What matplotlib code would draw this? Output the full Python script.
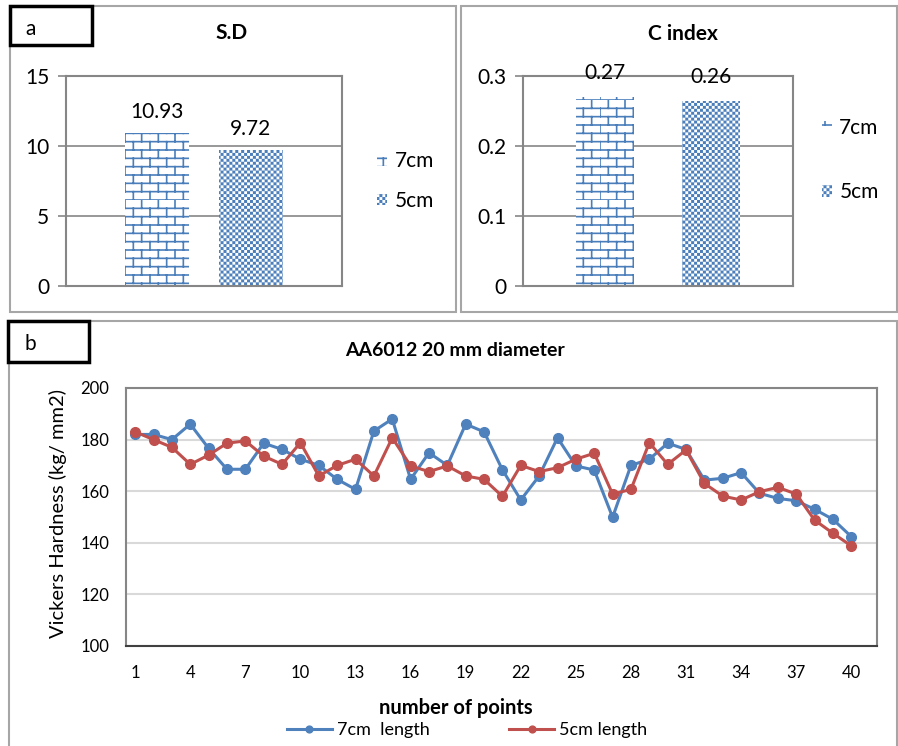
import warnings
import numpy as np
import matplotlib
matplotlib.use("Agg")
import matplotlib.pyplot as plt
import matplotlib.hatch as mhatch
from matplotlib.path import Path
from matplotlib.patches import Rectangle

warnings.filterwarnings("ignore")

# ---- data ----
bar_labels = ["7cm", "5cm"]
sd_values = [10.93, 9.72]
cindex_values = [0.27, 0.264]

points = list(range(1, 41))
hv_7cm = [182, 182, 180, 186, 176.6, 168.5, 168.5, 178.6, 176.2, 172.4,
          170, 164.6, 160.7, 183.3, 188, 164.6, 174.9, 170, 186, 183,
          168.3, 156.6, 165.9, 180.7, 169.8, 168.2, 149.9, 170, 172.4, 178.6,
          176.2, 164.3, 165, 167.2, 159.2, 157.2, 156.3, 153, 149.1, 142.4]
hv_5cm = [183, 180, 177, 170.4, 174, 178.6, 179.5, 173.6, 170.4, 178.8,
          165.9, 170, 172.4, 165.9, 180.7, 169.8, 167.6, 169.8, 165.9, 164.6,
          158, 170, 167.6, 169.1, 172.4, 174.7, 158.9, 160.7, 178.8, 170.4,
          176, 163, 158.1, 156.6, 159.8, 161.5, 158.9, 148.8, 143.7, 138.8]
x_ticks = list(range(1, 41, 3))


# Excel-like hatch patterns: 'B' = bricks, 'C' = small checkerboard
class BrickHatch(mhatch.HatchPatternBase):
    def __init__(self, hatch, density):
        n = hatch.count('B')
        self.rows = 12 * n
        self.cols = 6 * n
        self.num_vertices = self.rows * 2 + self.rows * self.cols * 2

    def set_vertices_and_codes(self, vertices, codes):
        i = 0
        for k in range(self.rows):
            y0 = k / self.rows
            y1 = (k + 1) / self.rows
            vertices[i] = (0, y0)
            vertices[i + 1] = (1, y0)
            codes[i] = Path.MOVETO
            codes[i + 1] = Path.LINETO
            i += 2
            off = 0.5 * (k % 2)
            for j in range(self.cols):
                x = (j + off) / self.cols
                vertices[i] = (x, y0)
                vertices[i + 1] = (x, y1)
                codes[i] = Path.MOVETO
                codes[i + 1] = Path.LINETO
                i += 2


class CheckerHatch(mhatch.HatchPatternBase):
    def __init__(self, hatch, density):
        n = hatch.count('C')
        self.n = 34 * n
        self.num_vertices = (self.n * self.n // 2) * 5

    def set_vertices_and_codes(self, vertices, codes):
        c = 1.0 / self.n
        s = c - 0.0160  # squares shrink by the stroke width
        o = (c - s) / 2
        i = 0
        for a in range(self.n):
            for b in range(self.n):
                if (a + b) % 2:
                    continue
                x0, y0 = a * c + o, b * c + o
                vertices[i:i + 5] = [(x0, y0), (x0 + s, y0), (x0 + s, y0 + s),
                                     (x0, y0 + s), (x0, y0)]
                codes[i] = Path.MOVETO
                codes[i + 1:i + 4] = Path.LINETO
                codes[i + 4] = Path.CLOSEPOLY
                i += 5


mhatch._hatch_types.append(BrickHatch)
mhatch._hatch_types.append(CheckerHatch)

plt.rcParams['font.family'] = ['Lato', 'DejaVu Sans']
plt.rcParams['hatch.linewidth'] = 1.2

W, H = 898, 746
fig = plt.figure(figsize=(W / 100, H / 100), dpi=100)

blue = '#4F81BD'
red = '#C0504D'
hatch_blue = '#4a7ebb'
grid_gray = '#868686'


def px_axes(x0, y0, x1, y1):
    return fig.add_axes([x0 / W, 1 - y1 / H, (x1 - x0) / W, (y1 - y0) / H])


def px_rect(x0, y0, x1, y1, color, lw):
    fig.patches.append(Rectangle((x0 / W, 1 - y1 / H), (x1 - x0) / W, (y1 - y0) / H,
                                 transform=fig.transFigure, fill=False,
                                 edgecolor=color, linewidth=lw))


def px_text(x, y, s, **kw):
    fig.text(x / W, 1 - y / H, s, **kw)


# panel frames
px_rect(10, 6, 456, 312, '#a6a6a6', 1.5)
px_rect(461, 6, 897, 312, '#a6a6a6', 1.5)
px_rect(9, 321, 897, 750, '#a6a6a6', 1.5)
px_rect(10, 6, 92, 45, 'black', 2.5)
px_rect(8, 321, 89, 362, 'black', 2.5)
px_text(25, 35, 'a', fontsize=15, va='baseline')
px_text(24, 350, 'b', fontsize=15, va='baseline')


def bar_panel(ax, values, width, xlim, ylim, yticks, pad, leg_anchor, spacing):
    hatches = ['B', 'C']
    for i, v in enumerate(values):
        b = ax.bar([i], [v], width=width, color='white', edgecolor=hatch_blue,
                   linewidth=0, hatch=hatches[i], label=bar_labels[i], zorder=2)
        ax.bar_label(b, fmt='%.2f', padding=pad, fontsize=15)
    ax.set_xlim(*xlim)
    ax.set_ylim(*ylim)
    ax.set_yticks(yticks)
    ax.set_xticks([])
    ax.grid(axis='y', color=grid_gray, linewidth=1.2, zorder=0)
    ax.set_axisbelow(True)
    for s in ax.spines.values():
        s.set_color(grid_gray)
        s.set_linewidth(1.5)
    ax.tick_params(axis='y', length=6, color=grid_gray, width=1.2, labelsize=15, pad=6)
    ax.legend(loc='center left', bbox_to_anchor=leg_anchor, frameon=False,
              fontsize=15, handlelength=0.5, handleheight=0.5,
              handletextpad=0.35, labelspacing=spacing, borderpad=0, borderaxespad=0)


ax1 = px_axes(66, 76, 342, 286)
bar_panel(ax1, sd_values, 0.68, (-0.97, 1.97), (0, 15), [0, 5, 10, 15], 8,
          (1.127, 0.5), 0.95)
px_text(232, 33, 'S.D', fontsize=15, fontweight='bold', ha='center', va='center')

ax2 = px_axes(523, 76, 793, 286)
bar_panel(ax2, cindex_values, 0.545, (-0.77, 1.77), (0, 0.3), [0, 0.1, 0.2, 0.3], 10,
          (1.106, 0.6), 2.12)
ax2.set_yticklabels(['0', '0.1', '0.2', '0.3'])
px_text(683, 34, 'C index', fontsize=15, fontweight='bold', ha='center', va='center')

# ---- line chart ----
ax3 = px_axes(126, 388, 877, 646)
ax3.plot(points, hv_7cm, color=blue, linewidth=2.2, marker='o', markersize=7,
         label='7cm  length', zorder=3)
ax3.plot(points, hv_5cm, color=red, linewidth=2.2, marker='o', markersize=7,
         label='5cm length', zorder=4)
ax3.set_xlim(0.5, 41.4)
ax3.set_ylim(100, 200)
ax3.set_yticks(range(100, 201, 20))
ax3.set_xticks(x_ticks)
ax3.grid(axis='y', color='#d9d9d9', linewidth=1.5, zorder=0)
ax3.set_axisbelow(True)
for s in ax3.spines.values():
    s.set_color(grid_gray)
    s.set_linewidth(1.5)
ax3.spines['bottom'].set_color('#404040')
ax3.tick_params(axis='y', length=0, labelsize=12, pad=12)
ax3.tick_params(axis='x', length=0, labelsize=12, pad=14)

px_text(455, 350, 'AA6012 20 mm diameter', fontsize=14, fontweight='bold',
        ha='center', va='center')
px_text(456, 708, 'number of points', fontsize=14.5, fontweight='bold',
        ha='center', va='center')
px_text(58, 513, 'Vickers Hardness (kg/ mm2)', fontsize=14.5, rotation=90,
        ha='center', va='center')

fig.legend(handles=ax3.get_lines(), loc='center', bbox_to_anchor=(467 / W, 1 - 730 / H),
           ncol=2, frameon=False, fontsize=13, handlelength=2.5, handletextpad=0.28,
           columnspacing=4.4, markerscale=0.7)

fig.savefig('out.png', dpi=100)
